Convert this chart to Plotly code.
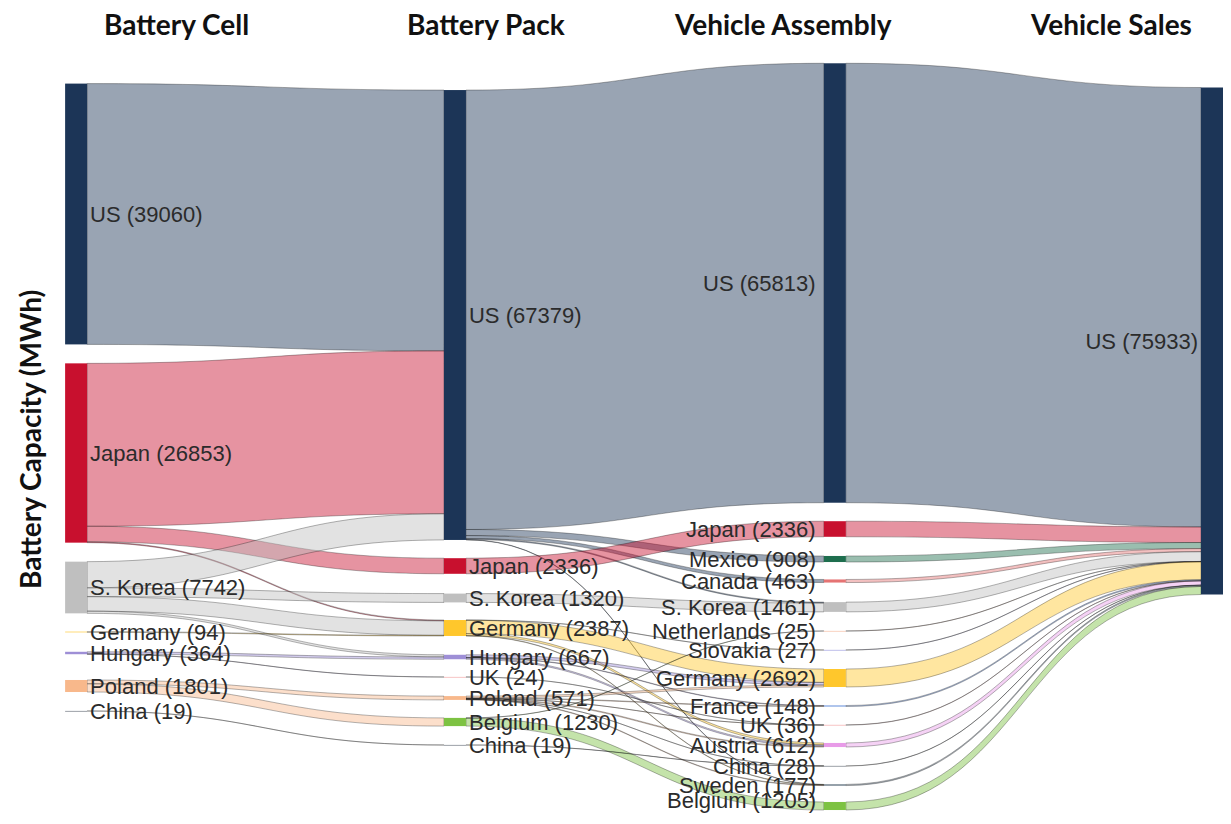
import plotly.graph_objects as go

# ---------------- data ----------------
stage_titles = ["Battery Cell", "Battery Pack", "Vehicle Assembly", "Vehicle Sales"]
axis_title = "Battery Capacity (MWh)"

cell_countries = ["US", "Japan", "S. Korea", "Germany", "Hungary", "Poland", "China"]
cell_values = [39060, 26853, 7742, 94, 364, 1801, 19]

pack_countries = ["US", "Japan", "S. Korea", "Germany", "Hungary", "UK", "Poland", "Belgium", "China"]
pack_values = [67379, 2336, 1320, 2387, 667, 24, 571, 1230, 19]

assy_countries = ["US", "Japan", "Mexico", "Canada", "S. Korea", "Netherlands", "Slovakia",
                  "Germany", "France", "UK", "Austria", "China", "Sweden", "Belgium"]
assy_values = [65813, 2336, 908, 463, 1461, 25, 27, 2692, 148, 36, 612, 28, 177, 1205]

sales_countries = ["US"]
sales_values = [75933]

# flows (source country, target country, MWh)
cell_to_pack = [
    ("US", "US", 39060),
    ("Japan", "US", 24397), ("Japan", "Japan", 2336), ("Japan", "Germany", 120),
    ("S. Korea", "US", 3922), ("S. Korea", "S. Korea", 1320), ("S. Korea", "Germany", 2173),
    ("S. Korea", "Hungary", 327),
    ("Germany", "Germany", 94),
    ("Hungary", "Hungary", 340), ("Hungary", "UK", 24),
    ("Poland", "Poland", 571), ("Poland", "Belgium", 1230),
    ("China", "China", 19),
]
pack_to_assy = [
    ("US", "US", 65813), ("US", "Mexico", 908), ("US", "Canada", 463),
    ("US", "S. Korea", 141), ("US", "Sweden", 52),
    ("Japan", "Japan", 2336),
    ("S. Korea", "S. Korea", 1320),
    ("Germany", "Germany", 2008), ("Germany", "Slovakia", 27), ("Germany", "Austria", 300),
    ("Germany", "Sweden", 52),
    ("Hungary", "Germany", 402), ("Hungary", "Austria", 198), ("Hungary", "France", 67),
    ("UK", "UK", 24),
    ("Poland", "Germany", 282), ("Poland", "France", 81), ("Poland", "Austria", 114),
    ("Poland", "Sweden", 73), ("Poland", "UK", 12), ("Poland", "China", 9),
    ("Belgium", "Belgium", 1205), ("Belgium", "Netherlands", 25),
    ("China", "China", 19),
]
assy_to_sales = [(c, "US", v) for c, v in zip(assy_countries, assy_values)]

# ---------------- styling ----------------
node_color = {
    "US": "#1c3557", "Japan": "#c8102e", "S. Korea": "#bfbfbf", "Germany": "#ffc72c",
    "Hungary": "#9e8fd6", "Poland": "#f8b88b", "China": "#3a4350", "UK": "#ef8a8a",
    "Belgium": "#7dc242", "Mexico": "#1e6e4e", "Canada": "#e57373", "Netherlands": "#f4a582",
    "Slovakia": "#7f7fd5", "France": "#5f8ad8", "Austria": "#e89be8", "Sweden": "#4e6070",
}


def rgba(hexc, a):
    hexc = hexc.lstrip("#")
    r, g, b = int(hexc[0:2], 16), int(hexc[2:4], 16), int(hexc[4:6], 16)
    return f"rgba({r},{g},{b},{a})"


# page body has an 8px margin: figure pixel = window pixel - 8
OFF = 8
W, H = 1231 - 2 * OFF, 824 - 2 * OFF
ML, MR, MT, MB = 68, 11, 52, 2
PW, PH = W - ML - MR, H - MT - MB


def px_x(wx):
    return (wx - OFF - ML) / PW


def px_y(wy):
    return 1 - (wy - OFF - MT) / PH


col_x = [0.0001, 0.3336, 0.668, 1.0]
# node centre positions (window pixels)
cell_cy = [214, 453, 587.5, 632, 653, 686, 711]
pack_cy = [315, 566, 598, 628, 657, 677, 698, 722, 745]
assy_cy = [283, 529, 559, 581, 607, 631, 650, 678, 706, 725, 745, 766, 785, 806]
sales_cy = [341]
LABEL_BOTTOM = 800  # keep the lowest label inside the page

# ---------------- build nodes ----------------
stages = [
    (cell_countries, cell_values, cell_cy),
    (pack_countries, pack_values, pack_cy),
    (assy_countries, assy_values, assy_cy),
    (sales_countries, sales_values, sales_cy),
]
labels, colors, nx, ny = [], [], [], []
index = {}
annotations = []
label_font = dict(family="Liberation Sans, Arial, sans-serif", size=22, color="#2b2b2b")
for s, (countries, values, cys) in enumerate(stages):
    for c, v, cy in zip(countries, values, cys):
        index[(s, c)] = len(labels)
        text = f"{c} ({v})"
        if s == 2:
            # assembly labels sit to the left of their nodes
            labels.append("")
            annotations.append(dict(
                text=text, x=px_x(818), y=px_y(min(cy, LABEL_BOTTOM)),
                xref="paper", yref="paper",
                xanchor="right", yanchor="middle", showarrow=False, font=label_font,
            ))
        else:
            labels.append(text)
        colors.append(node_color[c])
        nx.append(col_x[s])
        ny.append(1 - px_y(cy))

src, tgt, val, lcol = [], [], [], []
for s, flows in enumerate([cell_to_pack, pack_to_assy, assy_to_sales]):
    for a, b, v in flows:
        src.append(index[(s, a)])
        tgt.append(index[(s + 1, b)])
        val.append(v)
        lcol.append(rgba(node_color[a], 0.45))

fig = go.Figure(go.Sankey(
    arrangement="fixed",
    node=dict(
        label=labels, color=colors, x=nx, y=ny,
        pad=19, thickness=22, line=dict(width=0),
    ),
    link=dict(source=src, target=tgt, value=val, color=lcol,
              line=dict(color=lcol, width=0.3)),
    textfont=dict(family="Liberation Sans, Arial, sans-serif", size=22, color="#2b2b2b",
                  shadow="none"),
))

title_px = [176, 486, 783, 1111]
title_font = dict(family="Lato, sans-serif", size=28, color="#111111")
for t, wx in zip(stage_titles, title_px):
    annotations.append(dict(
        text=f"<b>{t}</b>", x=px_x(wx), y=px_y(24),
        xref="paper", yref="paper", xanchor="center", yanchor="middle",
        showarrow=False, font=title_font,
    ))
annotations.append(dict(
    text=f"<b>{axis_title}</b>", x=px_x(30), y=px_y(440),
    xref="paper", yref="paper", xanchor="center", yanchor="middle", textangle=-90,
    showarrow=False, font=title_font,
))

fig.update_layout(
    width=W, height=H,
    margin=dict(l=ML, r=MR, t=MT, b=MB),
    paper_bgcolor="white", plot_bgcolor="white",
    annotations=annotations,
    font=dict(family="Liberation Sans, Arial, sans-serif"),
)

fig.write_html("out.html")
